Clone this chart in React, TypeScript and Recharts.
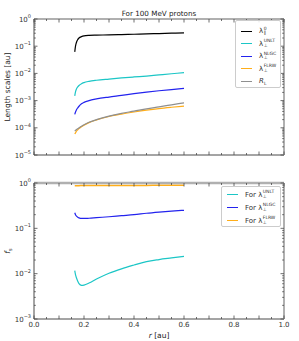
import React from "react";
import { LineChart, Line, XAxis, YAxis, Legend } from "recharts";

// radial distance [au]
const rAu = [0.163, 0.166, 0.17, 0.175, 0.18, 0.19, 0.2, 0.22, 0.25, 0.3, 0.35, 0.4, 0.45, 0.5, 0.55, 0.6];

// top panel: length scales [au]
const lamPar0 = [0.062, 0.1, 0.14, 0.175, 0.2, 0.225, 0.24, 0.25, 0.255, 0.26, 0.268, 0.275, 0.283, 0.292, 0.3, 0.31];
const lamPerpUnlt = [0.0015, 0.0021, 0.0027, 0.0032, 0.0036, 0.0042, 0.0046, 0.0051, 0.0056, 0.0062, 0.0068, 0.0074, 0.008, 0.0088, 0.0097, 0.0107];
const lamPerpNlgc = [3.1e-4, 3.8e-4, 4.6e-4, 5.4e-4, 6.2e-4, 7.6e-4, 8.6e-4, 1.0e-3, 1.15e-3, 1.35e-3, 1.55e-3, 1.8e-3, 2.05e-3, 2.3e-3, 2.55e-3, 2.8e-3];
const lamPerpFlrw = [5.9e-5, 6.5e-5, 7.5e-5, 8.4e-5, 9.3e-5, 1.1e-4, 1.25e-4, 1.55e-4, 1.95e-4, 2.6e-4, 3.2e-4, 3.8e-4, 4.45e-4, 5.1e-4, 5.7e-4, 6.3e-4];
const larmorR = [7.5e-5, 8.0e-5, 8.6e-5, 9.3e-5, 1.0e-4, 1.15e-4, 1.3e-4, 1.6e-4, 2.0e-4, 2.7e-4, 3.4e-4, 4.1e-4, 5.0e-4, 5.9e-4, 7.0e-4, 8.3e-4];

// bottom panel: f_s
const fsUnlt = [0.0117, 0.0095, 0.008, 0.0068, 0.006, 0.0055, 0.0056, 0.0062, 0.0076, 0.0102, 0.0128, 0.0155, 0.0185, 0.0205, 0.0222, 0.024];
const fsNlgc = [0.22, 0.2, 0.185, 0.175, 0.17, 0.165, 0.165, 0.167, 0.172, 0.18, 0.19, 0.2, 0.215, 0.228, 0.24, 0.25];
const fsFlrw = [0.87, 0.87, 0.872, 0.875, 0.875, 0.877, 0.878, 0.88, 0.88, 0.882, 0.884, 0.885, 0.886, 0.887, 0.888, 0.89];

const xTicks = [0, 0.05, 0.1, 0.15, 0.2, 0.25, 0.3, 0.35, 0.4, 0.45, 0.5, 0.55, 0.6, 0.65, 0.7, 0.75, 0.8, 0.85, 0.9, 0.95, 1];
const topDecades = [1e-5, 1e-4, 1e-3, 1e-2, 1e-1, 1];
const botDecades = [1e-3, 1e-2, 1e-1, 1];

const C_BLACK = "#000000";
const C_CYAN = "#1cc6c6";
const C_BLUE = "#2323ee";
const C_ORANGE = "#ffae1a";
const C_GRAY = "#8f8f8f";

const FONT = "DejaVu Sans, sans-serif";
const DARK = "#4a4a4a";
const FRAME = "#b0b0b0";

const topData = rAu.map((r, i) => ({
  r,
  par: lamPar0[i],
  unlt: lamPerpUnlt[i],
  nlgc: lamPerpNlgc[i],
  flrw: lamPerpFlrw[i],
  rl: larmorR[i],
}));

const botData = rAu.map((r, i) => ({
  r,
  unlt: fsUnlt[i],
  nlgc: fsNlgc[i],
  flrw: fsFlrw[i],
}));

const withMinors = (decades: number[]) => {
  const out: number[] = [];
  decades.forEach((d, i) => {
    out.push(d);
    if (i < decades.length - 1) for (let k = 2; k <= 9; k++) out.push(d * k);
  });
  return out;
};

const isMajorX = (v: number) => Math.abs(v * 10 - Math.round(v * 10)) < 1e-6;
const isDecade = (v: number) => Math.abs(Math.log10(v) - Math.round(Math.log10(v))) < 1e-6;

const XTick = ({ x, y, payload, side, labels }: any) => {
  const v = payload.value;
  const len = isMajorX(v) ? 3.5 : 2;
  const dir = side === "bottom" ? -1 : 1;
  const showLabel = labels && Math.abs(v * 5 - Math.round(v * 5)) < 1e-6;
  return (
    <g>
      <line x1={x} x2={x} y1={y} y2={y + dir * len} stroke={DARK} strokeWidth={0.8} />
      {showLabel && (
        <text x={x} y={y + 7.5} textAnchor="middle" fontSize={7} fontFamily={FONT} fill="#333">
          {v.toFixed(1)}
        </text>
      )}
    </g>
  );
};

const YTick = ({ x, y, payload, side }: any) => {
  const v = payload.value;
  const major = isDecade(v);
  const len = major ? 3.5 : 1.8;
  const dir = side === "left" ? 1 : -1;
  const exp = Math.round(Math.log10(v));
  return (
    <g>
      <line x1={x} x2={x + dir * len} y1={y} y2={y} stroke={DARK} strokeWidth={0.8} />
      {major && side === "left" && (
        <text x={x - 3} y={y + 2.5} textAnchor="end" fontSize={7} fontFamily={FONT} fill="#333">
          10
          <tspan dy={-3.5} fontSize={5}>
            {exp < 0 ? "\u2212" + Math.abs(exp) : String(exp)}
          </tspan>
        </text>
      )}
    </g>
  );
};

const Lam = ({ sup, sub }: { sup: string; sub: string }) => (
  <span style={{ display: "inline-flex", alignItems: "center" }}>
    <span>λ</span>
    <span style={{ display: "inline-flex", flexDirection: "column", fontSize: 4.5, lineHeight: "4.5px", marginLeft: 0.5 }}>
      <span>{sup}</span>
      <span>{sub}</span>
    </span>
  </span>
);

const Swatch = ({ color }: { color: string }) => (
  <span style={{ display: "inline-block", width: 11, height: 0, borderTop: `1.3px solid ${color}`, marginRight: 7 }} />
);

const topItems = [
  { color: C_BLACK, label: <Lam sup="0" sub="∥" /> },
  { color: C_CYAN, label: <Lam sup="UNLT" sub="⊥" /> },
  { color: C_BLUE, label: <Lam sup="NLGC" sub="⊥" /> },
  { color: C_ORANGE, label: <Lam sup="FLRW" sub="⊥" /> },
  {
    color: C_GRAY,
    label: (
      <span>
        <i>R</i>
        <sub style={{ fontSize: 4.5 }}>L</sub>
      </span>
    ),
  },
];

const forLam = (sup: string) => (
  <span style={{ display: "inline-flex", alignItems: "center" }}>
    For&nbsp;<Lam sup={sup} sub="⊥" />
  </span>
);

const botItems = [
  { color: C_CYAN, label: forLam("UNLT") },
  { color: C_BLUE, label: forLam("NLGC") },
  { color: C_ORANGE, label: forLam("FLRW") },
];

const LegendBox = ({ items, width, height, rowH, padTop }: any) => (
  <div
    style={{
      width,
      height,
      boxSizing: "border-box",
      border: "1px solid #cccccc",
      borderRadius: 2,
      background: "rgba(255,255,255,0.85)",
      paddingTop: padTop,
      paddingLeft: 5,
      fontFamily: FONT,
      fontSize: 7,
      color: "#333",
    }}
  >
    {items.map((it: any, i: number) => (
      <div key={i} style={{ height: rowH, display: "flex", alignItems: "center" }}>
        <Swatch color={it.color} />
        <span>{it.label}</span>
      </div>
    ))}
  </div>
);

const lineProps = { type: "monotone" as const, dot: false, isAnimationActive: false, strokeWidth: 1.2, xAxisId: "x", yAxisId: "y" };

export default function App() {
  const topTicks = withMinors(topDecades);
  const botTicks = withMinors(botDecades);
  return (
    <div style={{ position: "absolute", left: 0, top: 0, width: 299, height: 341, background: "#fff", fontFamily: FONT }}>
      {/* top panel */}
      <div style={{ position: "absolute", left: 0, top: 0 }}>
        <LineChart width={299} height={170} data={topData} margin={{ top: 0, right: 0, bottom: 0, left: 0 }}>
          <XAxis xAxisId="x" dataKey="r" type="number" domain={[0, 1]} ticks={xTicks} interval={0} height={15}
            tickSize={0} tickMargin={0} axisLine={{ stroke: DARK, strokeWidth: 1 }} tickLine={false}
            tick={(p: any) => <XTick {...p} side="bottom" labels={false} />} />
          <XAxis xAxisId="xt" orientation="top" dataKey="r" type="number" domain={[0, 1]} ticks={xTicks} interval={0} height={19}
            tickSize={0} tickMargin={0} axisLine={{ stroke: FRAME, strokeWidth: 2 }} tickLine={false}
            tick={(p: any) => <XTick {...p} side="top" labels={false} />} />
          <YAxis yAxisId="y" type="number" scale="log" domain={[1e-5, 1]} allowDataOverflow ticks={topTicks} interval={0} width={34}
            tickSize={0} tickMargin={0} axisLine={{ stroke: DARK, strokeWidth: 1 }} tickLine={false}
            tick={(p: any) => <YTick {...p} side="left" />} />
          <YAxis yAxisId="yr" orientation="right" type="number" scale="log" domain={[1e-5, 1]} allowDataOverflow ticks={topTicks} interval={0} width={15}
            tickSize={0} tickMargin={0} axisLine={{ stroke: FRAME, strokeWidth: 2 }} tickLine={false}
            tick={(p: any) => <YTick {...p} side="right" />} />
          <Line {...lineProps} dataKey="par" stroke={C_BLACK} />
          <Line {...lineProps} dataKey="unlt" stroke={C_CYAN} />
          <Line {...lineProps} dataKey="nlgc" stroke={C_BLUE} />
          <Line {...lineProps} dataKey="flrw" stroke={C_ORANGE} />
          <Line {...lineProps} dataKey="rl" stroke={C_GRAY} />
          <Legend layout="vertical" align="center" verticalAlign="middle"
            wrapperStyle={{ left: 235, top: 20, width: 46 }}
            content={() => <LegendBox items={topItems} width={46} height={68} rowH={12.5} padTop={4} />} />
        </LineChart>
      </div>
      {/* bottom panel */}
      <div style={{ position: "absolute", left: 0, top: 170 }}>
        <LineChart width={299} height={171} data={botData} margin={{ top: 0, right: 0, bottom: 0, left: 0 }}>
          <XAxis xAxisId="x" dataKey="r" type="number" domain={[0, 1]} ticks={xTicks} interval={0} height={22}
            tickSize={0} tickMargin={0} axisLine={{ stroke: DARK, strokeWidth: 1 }} tickLine={false}
            tick={(p: any) => <XTick {...p} side="bottom" labels />} />
          <XAxis xAxisId="xt" orientation="top" dataKey="r" type="number" domain={[0, 1]} ticks={xTicks} interval={0} height={13}
            tickSize={0} tickMargin={0} axisLine={{ stroke: FRAME, strokeWidth: 2.5 }} tickLine={false}
            tick={(p: any) => <XTick {...p} side="top" labels={false} />} />
          <YAxis yAxisId="y" type="number" scale="log" domain={[1e-3, 1]} allowDataOverflow ticks={botTicks} interval={0} width={34}
            tickSize={0} tickMargin={0} axisLine={{ stroke: DARK, strokeWidth: 1 }} tickLine={false}
            tick={(p: any) => <YTick {...p} side="left" />} />
          <YAxis yAxisId="yr" orientation="right" type="number" scale="log" domain={[1e-3, 1]} allowDataOverflow ticks={botTicks} interval={0} width={15}
            tickSize={0} tickMargin={0} axisLine={{ stroke: FRAME, strokeWidth: 2 }} tickLine={false}
            tick={(p: any) => <YTick {...p} side="right" />} />
          <Line {...lineProps} dataKey="unlt" stroke={C_CYAN} />
          <Line {...lineProps} dataKey="nlgc" stroke={C_BLUE} />
          <Line {...lineProps} dataKey="flrw" stroke={C_ORANGE} strokeWidth={1.5} />
          <Legend layout="vertical" align="center" verticalAlign="middle"
            wrapperStyle={{ left: 221, top: 16, width: 60 }}
            content={() => <LegendBox items={botItems} width={60} height={41} rowH={13} padTop={1} />} />
        </LineChart>
      </div>
      {/* titles and axis labels */}
      <div style={{ position: "absolute", left: 34, width: 250, top: 9, textAlign: "center", fontSize: 7.2, color: "#222", lineHeight: "9px" }}>
        For 100 MeV protons
      </div>
      <div style={{ position: "absolute", left: 7, top: 87, transform: "translate(-50%, -50%) rotate(-90deg)", whiteSpace: "nowrap", fontSize: 7.5, color: "#222" }}>
        Length scales [au]
      </div>
      <div style={{ position: "absolute", left: 8, top: 251, transform: "translate(-50%, -50%) rotate(-90deg)", whiteSpace: "nowrap", fontSize: 7.5, color: "#222" }}>
        <i>f</i>
        <sub style={{ fontSize: 5 }}>s</sub>
      </div>
      <div style={{ position: "absolute", left: 159, top: 335, transform: "translate(-50%, -50%)", whiteSpace: "nowrap", fontSize: 7.5, color: "#222" }}>
        <i>r</i> [au]
      </div>
    </div>
  );
}
